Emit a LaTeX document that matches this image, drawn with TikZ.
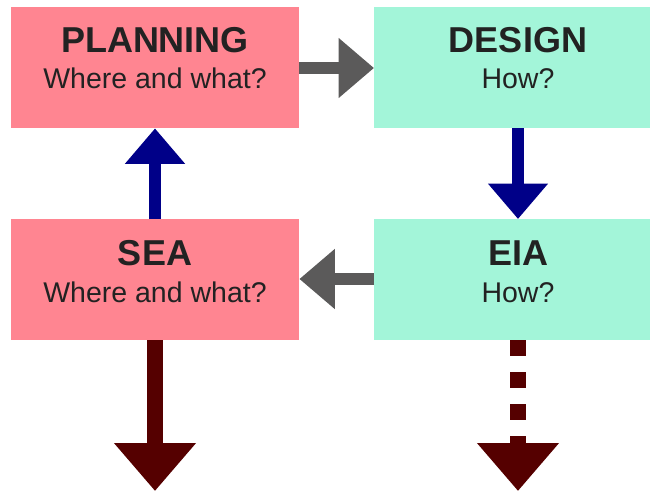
\documentclass[tikz,border=0pt]{standalone}
\usepackage{fontspec}
\setmainfont{Liberation Sans}
\usetikzlibrary{arrows.meta}
\definecolor{pinkbox}{HTML}{FF8591}
\definecolor{mintbox}{HTML}{A3F5D9}
\definecolor{grayarrow}{HTML}{5B5A5A}
\definecolor{navyarrow}{HTML}{000088}
\definecolor{redarrow}{HTML}{550000}
\definecolor{textdark}{HTML}{222222}
\tikzset{
  box/.style={anchor=north west, minimum width=288pt, minimum height=121pt, inner sep=0pt, draw=none},
  pinkfill/.style={box, fill=pinkbox},
  mintfill/.style={box, fill=mintbox},
  titletext/.style={anchor=base, inner sep=0pt, text=textdark, font=\fontsize{36}{40}\selectfont\bfseries},
  subtext/.style={anchor=base, inner sep=0pt, text=textdark, font=\fontsize{28.5}{32}\selectfont},
  thinarrow/.style={line width=12pt, -{Triangle[length=35.5pt 0 0, width=58pt 0 0]}},
  thickarrow/.style={line width=16pt, draw=redarrow, -{Triangle[length=48pt 0 0, width=79pt 0 0]}},
}
\begin{document}
\begin{tikzpicture}[x=1pt, y=-1pt]
\useasboundingbox (0,0) rectangle (650,492);
\clip (0,0) rectangle (650,492);
% boxes
\node[pinkfill] (planning) at (11,7) {};
\node[mintfill] (design) at (374,7) {};
\node[pinkfill] (sea) at (11,219) {};
\node[mintfill] (eia) at (374,219) {};
% texts
\node[titletext] (planningT) at (155,53) {PLANNING};
\node[subtext] (planningS) at (155,89) {Where and what?};
\node[titletext] (designT) at (518,53) {DESIGN};
\node[subtext] (designS) at (518,89) {How?};
\node[titletext] (seaT) at (155,265) {SEA};
\node[subtext] (seaS) at (155,302) {Where and what?};
\node[titletext] (eiaT) at (518,265) {EIA};
\node[subtext] (eiaS) at (518,302) {How?};
% free ends
\coordinate (seaEnd) at (155,491);
\coordinate (eiaEnd) at (518,491);
% connectors
\draw[thinarrow, draw=grayarrow] (planning.east |- 0,68) -- (design.west |- 0,68);
\draw[thinarrow, draw=navyarrow] (design.south -| 518,0) -- (eia.north -| 518,0);
\draw[thinarrow, draw=grayarrow] (eia.west |- 0,279) -- (sea.east |- 0,279);
\draw[thinarrow, draw=navyarrow] (sea.north -| 155,0) -- (planning.south -| 155,0);
\draw[thickarrow] (sea.south -| 155,0) -- (seaEnd);
\draw[thickarrow, dash pattern=on 16pt off 16pt] (eia.south -| 518,0) -- (eiaEnd);
\end{tikzpicture}
\end{document}
